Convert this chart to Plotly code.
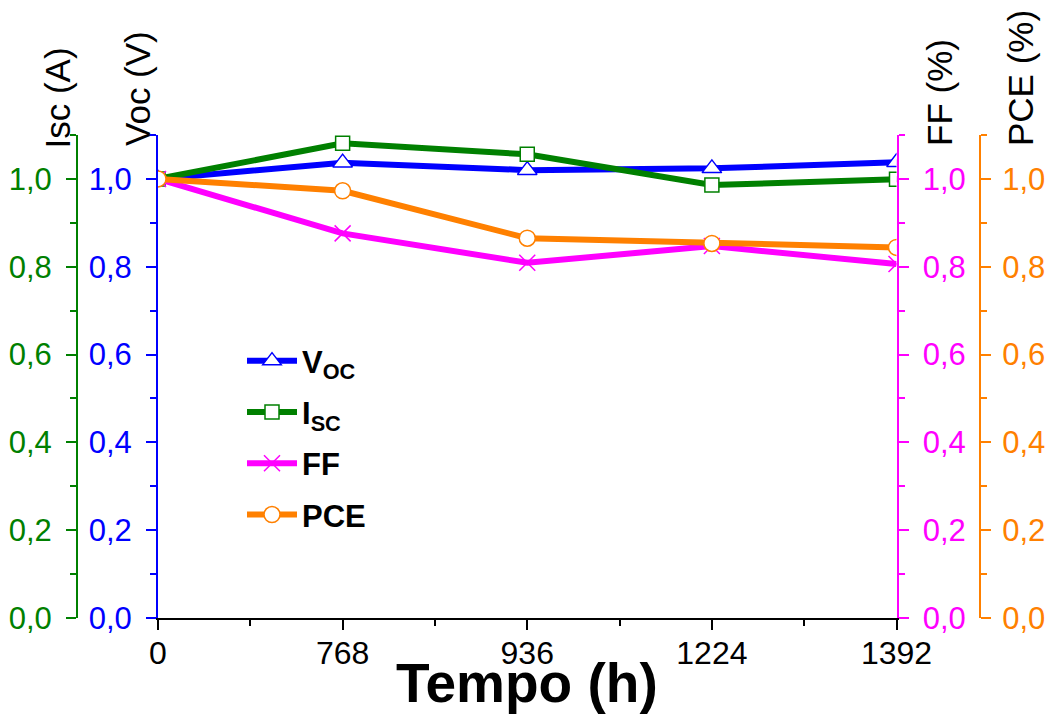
import plotly.graph_objects as go

categories = ["0", "768", "936", "1224", "1392"]
voc = [1.0, 1.037, 1.020, 1.024, 1.038]
isc = [1.0, 1.081, 1.056, 0.986, 0.999]
ff = [1.0, 0.876, 0.809, 0.847, 0.806]
pce = [1.0, 0.973, 0.865, 0.853, 0.844]

C_V = "rgb(0,0,255)"
C_I = "rgb(0,128,0)"
C_F = "rgb(255,0,255)"
C_P = "rgb(255,128,0)"

W, H = 1047, 716
xs = list(range(len(categories)))
FONT = "Liberation Sans, Arial, sans-serif"

fig = go.Figure()
fig.add_trace(go.Scatter(x=xs, y=voc, yaxis="y", name="<b>V<sub>OC</sub></b>", legendgroup="a",
                         mode="lines+markers", line=dict(color=C_V, width=6),
                         marker=dict(symbol="triangle-up", size=17, color="white",
                                     line=dict(color=C_V, width=1.5))))
fig.add_trace(go.Scatter(x=xs, y=isc, yaxis="y2", name="<b>I<sub>SC</sub></b>", legendgroup="b",
                         mode="lines+markers", line=dict(color=C_I, width=6),
                         marker=dict(symbol="square", size=14, color="white",
                                     line=dict(color=C_I, width=1.5))))
fig.add_trace(go.Scatter(x=xs, y=ff, yaxis="y3", name="<b>FF</b>", legendgroup="c",
                         mode="lines+markers", line=dict(color=C_F, width=6),
                         marker=dict(symbol="x-thin", size=16, color=C_F,
                                     line=dict(color=C_F, width=1.5))))
fig.add_trace(go.Scatter(x=xs, y=pce, yaxis="y4", name="<b>PCE</b>", legendgroup="d",
                         mode="lines+markers", line=dict(color=C_P, width=6),
                         marker=dict(symbol="circle", size=16, color="white",
                                     line=dict(color=C_P, width=1.5))))

x0, x1 = 158 / W, 896.5 / W
y0, y1 = 1 - 618 / H, 1 - 135 / H

def yax(color, **kw):
    d = dict(range=[0, 1.1], tick0=0, dtick=0.2, tickformat=".1f", automargin=False,
             showgrid=False, zeroline=False, showline=True, linewidth=2,
             linecolor=color, ticks="outside", ticklen=10, tickwidth=2,
             tickcolor=color, tickfont=dict(size=31, color=color, family=FONT),
             ticklabelstandoff=8,
             minor=dict(ticks="outside", ticklen=6, tickwidth=2, dtick=0.1,
                        tickcolor=color, showgrid=False))
    d.update(kw)
    return d

fig.update_layout(
    width=W, height=H,
    margin=dict(l=0, r=0, t=0, b=0),
    paper_bgcolor="white", plot_bgcolor="white",
    separators=",.",
    showlegend=True,
    xaxis=dict(domain=[x0, x1], range=[0, len(categories) - 1], automargin=False,
               tickvals=xs, ticktext=categories,
               showgrid=False, zeroline=False, showline=True, linewidth=2,
               linecolor="black", ticks="outside", ticklen=10, tickwidth=2,
               tickcolor="black", tickfont=dict(size=32, color="black", family=FONT),
               ticklabelstandoff=-4,
               minor=dict(ticks="outside", ticklen=6, tickwidth=2, dtick=0.5,
                          tickcolor="black", showgrid=False)),
    xaxis2=dict(overlaying="x", side="top", anchor="y", range=[0, len(categories) - 1],
                automargin=False,
                showgrid=False, zeroline=False, showline=True, linewidth=2,
                linecolor="black", ticks="inside", ticklen=4, tickwidth=1,
                tickcolor="black", dtick=0.5, tick0=0, showticklabels=False),
    yaxis=yax(C_V, domain=[y0, y1], anchor="x", side="left"),
    yaxis2=yax(C_I, overlaying="y", anchor="free", side="left", position=77 / W),
    yaxis3=yax(C_F, overlaying="y", anchor="x", side="right"),
    yaxis4=yax(C_P, overlaying="y", anchor="free", side="right", position=980 / W,
               ticklabelstandoff=5),
    legend=dict(x=242 / W, y=1 - 334 / H, xanchor="left", yanchor="top",
                bgcolor="rgba(0,0,0,0)", font=dict(size=31, color="black", family=FONT),
                itemwidth=50, tracegroupgap=8),
)

def title(text, xp, yp):
    fig.add_annotation(text=text, x=xp / W, y=1 - yp / H, xref="paper", yref="paper",
                       textangle=-90, showarrow=False, xanchor="center", yanchor="middle",
                       font=dict(size=35, color="black", family=FONT))

title("Isc (A)", 57, 98.5)
title("Voc (V)", 138, 88)
title("FF (%)", 939, 93)
title("PCE (%)", 1021, 78)

fig.add_annotation(text="<b>Tempo (h)</b>", x=526.5 / W, y=1 - 683 / H, xref="paper",
                   yref="paper", showarrow=False, xanchor="center", yanchor="middle",
                   font=dict(size=55, color="black", family=FONT))

fig.write_html("out.html", config={"displayModeBar": False},
               post_script="document.body.style.margin='0';document.body.style.overflow='hidden';")
